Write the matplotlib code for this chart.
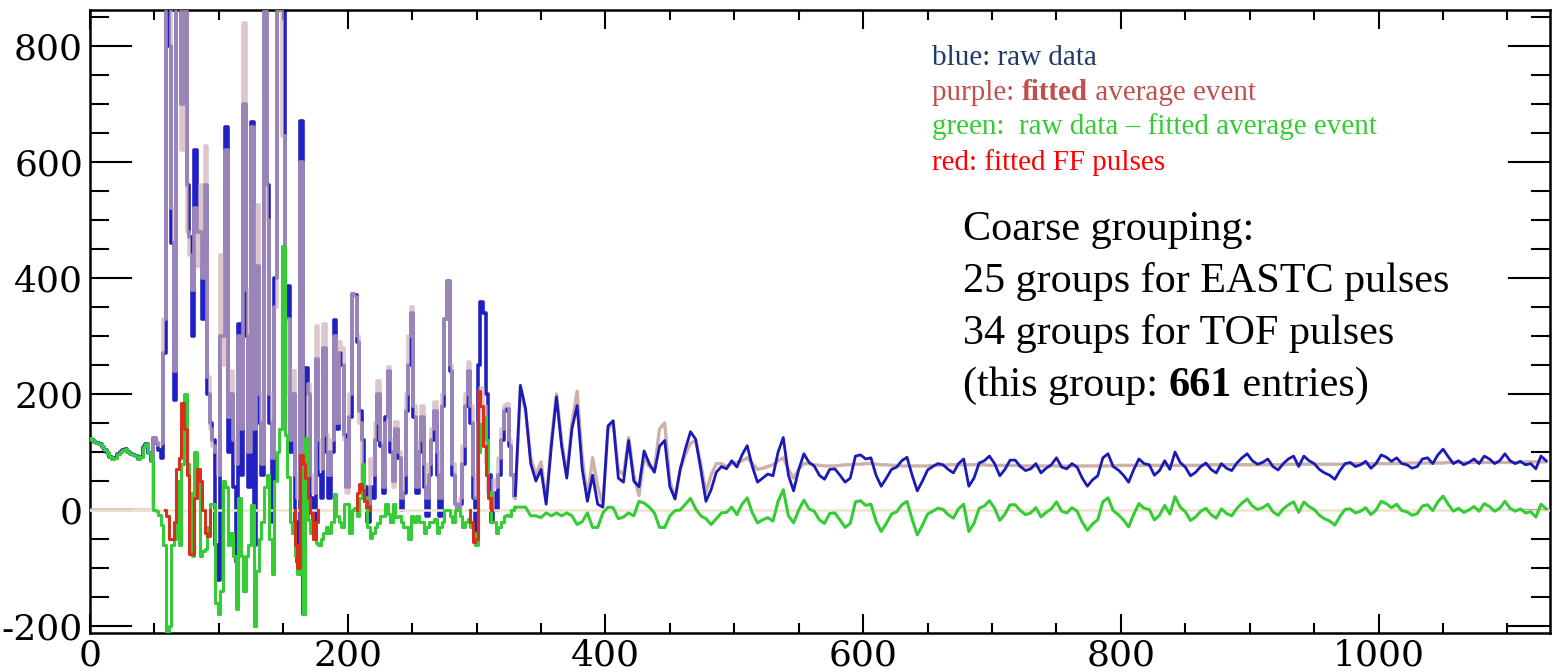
import matplotlib
matplotlib.use("Agg")
import matplotlib.pyplot as plt
import numpy as np
from matplotlib.ticker import MultipleLocator

plt.rcParams['axes.unicode_minus'] = False

# sample grid: fine near the event, coarser in the tail
x_head = np.arange(0, 330, 2)
x_tail = np.arange(330, 1134, 4)
samples = np.concatenate([x_head, x_tail])

# fitted average event
fit_head = [
    0, 0, 0, 0, 0, 0, 0, 0, 0, 0,
    0, 0, 0, 0, 0, 0, 0, 0, 0, 0,
    0, 0, 0, 0, 0, 125, 118, 112, 115, 330,
    1150, 1000, 520, 240, 950, 1100, 620, 900, 480, 440,
    380, 520, 420, 560, 400, 628, 230, 140, 110, 100,
    60, 440, 250, 620, 160, 240, 120, 80, 300, 140,
    840, 380, 100, 660, 140, 525, 200, 80, 860, 500,
    200, 90, 350, 900, 860, 645, 200, 330, 120, 240,
    60, 20, 600, 0, 120, 217, 60, 30, 317, 120,
    70, 320, 130, 60, 120, 300, 150, 290, 280, 120,
    30, 200, 372, 367, 300, 150, 40, 20, 10, 88,
    60, 150, 222, 120, 40, 150, 246, 120, 40, 152,
    100, 20, 60, 200, 300, 350, 180, 40, 120, 180,
    80, 20, 80, 140, 186, 100, 20, 200, 330, 395,
    250, 80, 10, 0, 20, 110, 200, 255, 180, 60,
    20, 150, 210, 180, 80, 30, 0, 51, 40, 90,
    140, 180, 183, 120, 60,
]
fit_tail = [
    20, 210, 170, 90, 60, 83, 15, 120, 200, 120,
    60, 150, 205, 90, 20, 90, 40, 10, 140, 150,
    70, 60, 125, 60, 25, 90, 75, 70, 140, 150,
    50, 20, 70, 95, 115, 120, 80, 30, 60, 80,
    80, 75, 80, 82, 85, 90, 80, 70, 72, 75,
    78, 85, 90, 70, 55, 70, 80, 80, 78, 77,
    76, 76, 76, 77, 78, 78, 79, 79, 80, 80,
    79, 78, 78, 77, 77, 76, 76, 76, 76, 76,
    76, 77, 77, 77, 78, 78, 78, 78, 78, 78,
    78, 78, 77, 77, 77, 77, 77, 77, 76, 76,
    76, 76, 76, 76, 76, 76, 76, 76, 76, 76,
    76, 76, 76, 76, 76, 76, 76, 77, 77, 77,
    77, 77, 77, 77, 77, 77, 77, 77, 77, 77,
    77, 77, 77, 77, 78, 78, 78, 78, 78, 78,
    78, 78, 78, 78, 78, 78, 78, 78, 78, 78,
    79, 79, 79, 79, 79, 79, 79, 79, 79, 79,
    79, 79, 80, 80, 80, 80, 80, 80, 80, 80,
    80, 80, 81, 81, 81, 81, 81, 81, 81, 81,
    81, 82, 82, 82, 82, 82, 82, 82, 82, 82,
    82, 82, 82, 82, 82, 82, 83, 83, 83, 83,
    83,
]

# raw data
raw_head = [
    124, 120, 118, 115, 113, 108, 104, 98, 92, 88,
    90, 96, 100, 104, 106, 100, 97, 95, 93, 88,
    92, 108, 113, 98, 85, 125, 116, 104, 90, 270,
    920, 800, 460, 190, 1000, 1040, 700, 1100, 560, 470,
    300, 620, 480, 480, 330, 560, 200, 150, 120, -60,
    -120, 300, 300, 660, 100, 200, 40, -90, 320, 60,
    700, 300, 40, 669, -60, 420, 150, 60, 900, 560,
    150, -20, 400, 1000, 1000, 1100, 330, 387, 100, 200,
    -20, -90, 670, -180, 245, 200, 20, -20, 260, 60,
    20, 280, 100, 20, 100, 328, 140, 270, 250, 130,
    40, 160, 372, 370, 290, 170, 120, 40, -20, 40,
    20, 120, 200, 110, 30, 160, 240, 100, 50, 140,
    90, 0, 30, 170, 250, 340, 160, 30, 100, 160,
    40, -10, 60, 120, 170, 60, -10, 180, 330, 395,
    240, 60, 10, 0, 10, 80, 180, 240, 150, 20,
    -40, 250, 358, 340, 200, 60, -20, 30, 0, 60,
    120, 170, 175, 110, 60,
]
raw_tail = [
    25, 215, 175, 80, 50, 70, 10, 110, 195, 110,
    55, 140, 180, 70, 15, 60, 10, 5, 145, 154,
    55, 48, 120, 50, 40, 102, 80, 65, 110, 120,
    40, 19, 70, 105, 135, 122, 70, 15, 35, 65,
    75, 71, 85, 74, 95, 111, 75, 48, 55, 62,
    59, 100, 125, 60, 33, 70, 97, 82, 76, 60,
    53, 70, 71, 60, 48, 55, 93, 95, 88, 90,
    60, 41, 55, 70, 74, 85, 91, 60, 33, 50,
    69, 75, 80, 78, 70, 64, 80, 88, 41, 55,
    81, 85, 93, 80, 59, 70, 86, 86, 75, 68,
    71, 80, 64, 72, 78, 90, 74, 71, 80, 74,
    55, 41, 52, 59, 90, 97, 75, 69, 60, 48,
    70, 88, 80, 78, 60, 68, 85, 70, 100, 82,
    74, 59, 65, 75, 81, 70, 64, 80, 72, 68,
    81, 90, 97, 85, 79, 82, 88, 75, 69, 80,
    88, 93, 75, 93, 85, 80, 70, 64, 60, 53,
    68, 80, 82, 75, 78, 84, 72, 80, 95, 91,
    84, 90, 80, 78, 72, 75, 88, 90, 80, 95,
    105, 92, 80, 85, 78, 82, 88, 80, 93, 88,
    80, 85, 97, 85, 80, 84, 78, 80, 71, 93,
    85,
]

fitted = np.array(fit_head + fit_tail, dtype=float)
raw = np.array(raw_head + raw_tail, dtype=float)
residual = raw - fitted

# fitted FF pulses (NaN splits the separate pulses)
ff_x = [58, 60, 62, 64, 66, 68, 70, 72, 74, 76, 78, 80, 82, 84, 86, 88, 90, 92, 94, np.nan,
        158, 160, 162, 164, 166, 168, 170, 172, 174, 176, 178, np.nan,
        206, 208, 210, 212, 214, 216, 218, np.nan,
        294, 296, 298, 300, 302, 304, 306, 308, 310, 312]
ff_y = [0, -10, -50, -50, -20, 70, 90, 185, 140, 60, -75, -75, 20, 70, 50, 0, -40, -45, 0, np.nan,
        0, -60, -100, 95, 80, 55, 20, -5, -50, -20, 0, np.nan,
        0, 30, 45, 35, 15, 5, 0, np.nan,
        0, -20, -55, -50, 205, 180, 110, 60, 20, 0]

W, H = 1567, 672
fig = plt.figure(figsize=(W / 100, H / 100), dpi=100)
ax = fig.add_axes([90 / W, 1 - 633 / H, 1460 / W, 623 / H])

n = len(x_head)
h = slice(0, n + 1)   # busy part, drawn as steps
t = slice(n, None)    # quieter tail

ax.plot(samples[h], raw[h], drawstyle='steps-mid', color='#2020c4', lw=2.6, zorder=2)
ax.plot(samples[h], fitted[h], drawstyle='steps-mid', color='#cfb0b4', lw=2.6, alpha=0.7, zorder=3)
ax.plot(samples[t], fitted[t], color='#cdb0a8', lw=2.4, zorder=2)
ax.plot(samples[t], raw[t], color='#1a1ab8', lw=2.0, zorder=3)
ax.axhline(0, color='#efe3cf', lw=1.8, zorder=4)
ax.plot(samples[h], residual[h], drawstyle='steps-mid', color='#35cc35', lw=2.2, zorder=5)
ax.plot(samples[t], residual[t], color='#35cc35', lw=2.2, zorder=5)
ax.plot(ff_x, ff_y, drawstyle='steps-mid', color='#d8301a', lw=2.2, zorder=6)

ax.set_xlim(0, 1133)
ax.set_ylim(-212, 862)

ax.xaxis.set_major_locator(MultipleLocator(200))
ax.xaxis.set_minor_locator(MultipleLocator(50))
ax.yaxis.set_major_locator(MultipleLocator(200))
ax.yaxis.set_minor_locator(MultipleLocator(50))

ax.tick_params(axis='y', which='major', direction='in', length=30, width=1.5,
               left=True, right=True, labelsize=26, pad=5)
ax.tick_params(axis='y', which='minor', direction='in', length=14, width=1.5,
               left=True, right=True)
ax.tick_params(axis='x', which='major', direction='in', length=14, width=1.5,
               bottom=True, top=True, labelsize=26, pad=4)
ax.tick_params(axis='x', which='minor', direction='in', length=7, width=1.5,
               bottom=True, top=True)
for lab in ax.get_xticklabels() + ax.get_yticklabels():
    lab.set_family('DejaVu Serif')
for sp in ax.spines.values():
    sp.set_linewidth(1.8)

renderer = fig.canvas.get_renderer()


def text_line(x_px, y_px, parts, size):
    # parts: (string, colour, weight); pieces are laid out left to right
    cur = x_px
    for s, col, wt in parts:
        txt = fig.text(cur / W, 1 - y_px / H, s, color=col, fontsize=size,
                       fontweight=wt, family='Liberation Serif', va='baseline', ha='left')
        cur += txt.get_window_extent(renderer).width


text_line(932, 65, [("blue: raw data", '#1f3a6a', 'normal')], 21)
text_line(932, 100, [("purple: ", '#c0504d', 'normal'), ("fitted", '#c0504d', 'bold'),
                     (" average event", '#c0504d', 'normal')], 21)
text_line(932, 134, [("green:  raw data \u2013 fitted average event", '#33cc33', 'normal')], 21)
text_line(932, 170, [("red: fitted FF pulses", '#ff0000', 'normal')], 21)

text_line(963, 240, [("Coarse grouping:", 'black', 'normal')], 30.3)
text_line(963, 292, [("25 groups for EASTC pulses", 'black', 'normal')], 30.3)
text_line(963, 344, [("34 groups for TOF pulses", 'black', 'normal')], 30.3)
text_line(963, 396, [("(this group: ", 'black', 'normal'), ("661", 'black', 'bold'),
                     (" entries)", 'black', 'normal')], 30.3)

fig.savefig('out.png', dpi=100)
